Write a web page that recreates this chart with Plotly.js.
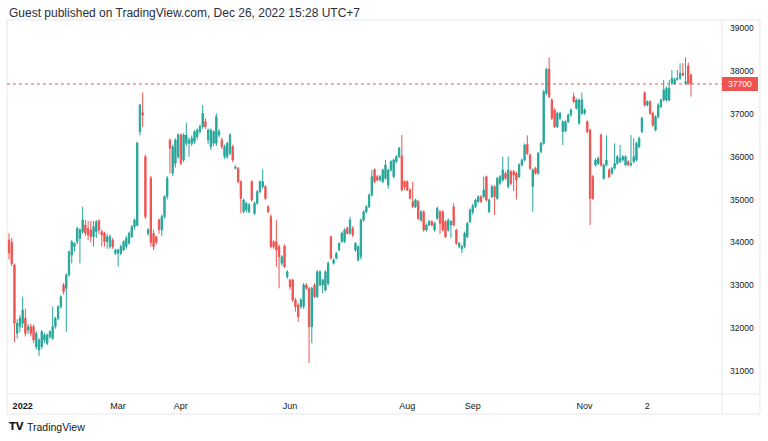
<!DOCTYPE html>
<html><head><meta charset="utf-8">
<script src="https://cdn.plot.ly/plotly-3.0.1.min.js"></script>
<style>html,body{margin:0;padding:0;background:#fff}#chart{width:768px;height:441px}</style>
</head><body><div id="chart"></div>
<script>
const openP=[34050,34000,33470,31874,32030,32108,32224,31952,32030,32030,31562,31485,31562,31718,31640,31796,31757,32030,32224,32497,33003,32925,33237,33704,33899,34016,34094,34249,34405,34327,34288,34132,34249,34510,34249,34210,34016,33899,34055,33743,33743,33743,33821,33899,33977,34132,34366,
34400,36585,37030,36000,34210,35500,34210,34130,34520,34290,34600,35070,
36390,35612,35845,36001,36507,35923,36312,36312,36312,36351,36468,36585,36702,36819,36390,36235,36312,36312,36507,36390,36001,36001,36079,36235,35729,35729,35417,34716,34755,34716,35417,34677,34911,35183,35300,35300,34833,34599,
34016,34016,33899,33510,33915,33198,33120,33120,32653,32536,32497,32497,33003,32926,32030,33003,32731,33003,33003,32887,33042,34133,33510,33627,33821,34016,34016,34327,34210,34327,33821,33588,33665,34521,34716,34833,35106,35700,35534,35456,35417,35495,35339,35690,35534,35884,36001,36017,
35417,35417,35223,34950,34833,34950,34521,34716,34288,34405,34483,34288,34561,34716,34716,34483,34288,34405,34833,34288,33899,33850,33899,34133,34483,34700,34833,34950,35067,35067,35534,34716,35067,35300,35028,35378,35456,35612,35300,35651,35651,35612,35534,35806,35923,36289,36040,35300,35729,35612,36118,36313,37481,38041,37325,37091,36702,36897,36585,36600,36819,36975,37403,37130,36780,37013,37013,36819,36624,35534,35806,35845,36507,35495,35806,35690,35612,35729,35845,35880,35923,35806,35884,35806,35884,35923,36235,36585,37496,37208,37286,37013,36624,36936,37169,37325,37325,37325,37714,37714,37808,37831,37948,37714,38119,37909];
const highP=[34210,34100,33500,32200,32300,32730,32450,32100,32100,32080,31920,31760,31950,31880,31870,31950,32497,32260,32530,32760,33050,33280,33800,34050,34000,34360,34330,34833,34520,34500,34500,34500,34520,34530,34300,34250,34200,34180,34100,33850,33850,33950,34050,34150,34250,34400,34550,
36350,37230,37496,36050,34330,35550,34300,34150,34560,34650,35100,35550,
36420,36280,36430,36550,36550,36550,36795,36450,36500,36620,36660,36750,37208,36900,36660,36660,36620,37013,36650,36450,36280,36350,36550,36280,35800,35760,35450,35020,34950,34920,35450,34950,35220,35450,35705,35340,34870,34650,
34050,34522,33950,33700,33950,33350,33150,33150,32700,32580,32700,33050,33050,32960,32960,33050,33350,33350,33150,33350,33550,34150,33620,33780,34000,34250,34330,34370,34600,34380,34000,33930,34560,34750,34870,35140,35690,35730,35570,35570,35720,35923,35720,35920,35960,36040,36230,36507,
35450,35450,35260,35417,35020,34990,34750,34750,34440,34520,34520,34480,34830,34750,34750,34520,34560,34520,34910,34320,34010,33950,34250,34480,34790,34900,35020,35100,35100,35534,35560,35020,35340,35340,35530,35570,36001,35650,36001,35690,35690,35650,35850,35960,36310,36500,36080,35730,35760,36110,36350,37560,38080,38322,37360,37130,37050,37050,36850,36850,37010,37130,37496,37360,37360,37496,37130,36850,36650,35570,35960,36000,36540,35840,36500,35730,35760,36313,36040,36274,36040,36040,35920,36507,36430,36350,36470,36930,37530,37320,37320,37050,36970,37250,37360,37792,37640,37792,38026,37850,38026,38180,38190,38322,38200,37940];
const lowP=[33600,33450,31670,31750,31900,32000,31800,31850,31800,31650,31500,31345,31500,31650,31600,31750,31720,31980,32180,32450,32780,31914,33200,33509,33782,33950,33509,34200,34150,34050,34000,33900,34100,34200,33900,33900,33850,33850,33850,33700,33432,33700,33800,33850,33950,34100,34300,
34366,36500,36700,34550,34150,33900,33820,33950,34200,34150,34550,35000,
35612,35550,35750,35950,35800,35880,36250,36000,36250,36300,36400,36540,36650,36650,36300,36157,36250,36250,36450,36180,35950,35950,36040,35880,35700,35380,34677,34680,34700,34680,34950,34640,34880,35150,35250,34990,34680,33860,
33850,33432,32926,33450,33400,33150,32900,32614,32381,32147,32450,32450,32880,31174,31641,32700,32700,32980,32809,32850,33000,33600,33480,33600,33800,33990,33990,34180,34180,34120,33780,33550,33600,34480,34680,34800,35070,35380,35420,35420,35380,35460,35250,35650,35500,35850,35970,35190,
35223,35200,35000,34800,34800,34520,34480,34250,34250,34380,34370,34250,34520,34200,34250,34100,34250,34100,34370,33940,33860,33743,33860,34100,34450,34650,34800,34920,34920,35030,34950,34680,35030,34638,34990,35340,35420,35460,35260,35340,35200,35000,35500,35780,35890,36040,35690,34716,35580,35580,36080,36280,37440,37370,36860,36670,36670,36860,36274,36570,36790,36940,37250,37100,36750,36980,36980,36550,34405,34990,35770,35810,35770,35460,35770,35500,35580,35700,35810,35850,35890,35780,35780,35770,35850,35890,36200,36550,37170,37170,36980,36700,36590,36900,37130,37290,37290,37290,37680,37680,37780,37800,37880,37680,37680,37403];
const closeP=[33750,33500,32110,32108,32224,32419,31874,32030,31874,31718,31874,31718,31913,31835,31835,31913,32030,32224,32497,32731,32848,33237,33782,34016,33977,34327,34288,34522,34210,34171,34132,34366,34483,34288,34171,34016,34132,34132,33899,33821,33821,33899,34016,34094,34210,34366,34522,
36320,37208,36974,34600,34290,34000,33900,34000,34300,34600,35070,35500,
36200,36235,36390,36507,35845,36507,36507,36390,36430,36585,36624,36702,37013,36702,36624,36624,36585,36936,36585,36235,36235,36312,36507,35923,35752,35417,35028,34989,34911,34872,34989,34911,35183,35417,35417,35028,34716,33898,
33899,33821,33665,33665,33432,33315,32964,32653,32497,32264,32653,33003,32926,32030,32926,32731,33315,33315,33120,33315,33510,33627,33588,33743,33977,34210,34288,34210,34522,34171,33977,33899,34522,34716,34833,35106,35534,35417,35456,35534,35690,35806,35690,35884,35923,36001,36196,35223,
35300,35223,35028,34833,34989,34561,34716,34288,34405,34483,34405,34444,34794,34444,34288,34133,34521,34483,34405,33977,33977,33900,34211,34444,34755,34850,34989,35067,34950,35223,34989,34989,35300,35067,35495,35534,35690,35495,35690,35378,35573,35456,35806,35923,36274,36079,35729,35690,35612,36079,36313,37520,38041,37403,36897,36702,37013,37013,36819,36819,36975,37091,37286,37325,37325,37325,37091,36585,35028,35028,35923,35962,35806,35806,35923,35534,35729,35845,36001,35962,36001,36001,35806,35845,36001,36313,36429,36897,37208,37286,37013,36741,36936,37208,37325,37559,37598,37598,37831,37808,37831,37948,37909,37753,37714,37700];
const lastPrice=37700;
const yTicks=[31000,32000,33000,34000,35000,36000,37000,38000,39000];
const tickIdx=[5,40,63,103,146,170,211,234];
const tickText=['<b>2022</b>','Mar','Apr','Jun','Aug','Sep','Nov','2'];
const titleText='Guest published on TradingView.com, Dec 26, 2022 15:28 UTC+7';

const idx=openP.map((_,i)=>i);
const up='#26a69a', dn='#ef5350', frame='#e6e7eb';
const trace={type:'candlestick',x:idx,open:openP,high:highP,low:lowP,close:closeP,
  increasing:{line:{color:up,width:1},fillcolor:up},
  decreasing:{line:{color:dn,width:1},fillcolor:dn},
  whiskerwidth:0,hoverinfo:'skip',showlegend:false};
const n=openP.length, s=(691-9)/(n-1);
const layout={width:768,height:441,margin:{l:7,r:46,t:20,b:47},
  paper_bgcolor:'#ffffff',plot_bgcolor:'#ffffff',
  font:{family:'Liberation Sans, Arial, sans-serif',color:'#131722'},
  xaxis:{range:[(7-9)/s,(722-9)/s],rangeslider:{visible:false},showgrid:false,zeroline:false,
    tickmode:'array',tickvals:tickIdx,ticktext:tickText,tickfont:{size:9,color:'#131722'},ticks:'',
    ticklabelstandoff:5,showline:false,fixedrange:true},
  yaxis:{side:'right',range:[30457,39194],tickmode:'array',tickvals:yTicks,ticktext:yTicks.map(String),
    showgrid:false,zeroline:false,tickfont:{size:8.5,color:'#131722'},ticks:'',ticklabelstandoff:7,showline:false,fixedrange:true},
  shapes:[
    {type:'rect',xref:'paper',yref:'paper',x0:0,x1:1.0531,y0:-0.0535,y1:1,line:{color:frame,width:1}},
    {type:'line',xref:'paper',yref:'paper',x0:1,x1:1,y0:-0.0535,y1:1,line:{color:frame,width:1}},
    {type:'line',xref:'paper',yref:'paper',x0:0,x1:1.0531,y0:0,y1:0,line:{color:frame,width:1}},
    {type:'line',xref:'paper',yref:'y',x0:0,x1:1,y0:lastPrice,y1:lastPrice,line:{color:dn,width:1,dash:'dot'}},
    {type:'rect',xref:'paper',yref:'paper',x0:1,x1:1.0503,y0:0.8102,y1:0.8476,fillcolor:dn,line:{width:0}}
  ],
  annotations:[
    {xref:'paper',yref:'paper',x:0,y:1.0187,xanchor:'left',yanchor:'middle',showarrow:false,
      text:titleText,font:{size:12,color:'#2a2e39'}},
    {xref:'paper',yref:'paper',x:1.0252,y:0.8289,xanchor:'center',yanchor:'middle',showarrow:false,
      text:String(lastPrice),font:{size:8.5,color:'#ffffff'}},
    {xref:'paper',yref:'paper',x:0.0,y:-0.0882,xanchor:'left',yanchor:'middle',showarrow:false,
      text:'<b>TV</b>',font:{size:10,family:'DejaVu Sans, sans-serif',color:'#131722'}},
    {xref:'paper',yref:'paper',x:0.0245,y:-0.0882,xanchor:'left',yanchor:'middle',showarrow:false,
      text:'TradingView',font:{size:10.5,color:'#131722'}}
  ]
};
Plotly.newPlot('chart',[trace],layout,{staticPlot:true,displayModeBar:false});
</script></body></html>
